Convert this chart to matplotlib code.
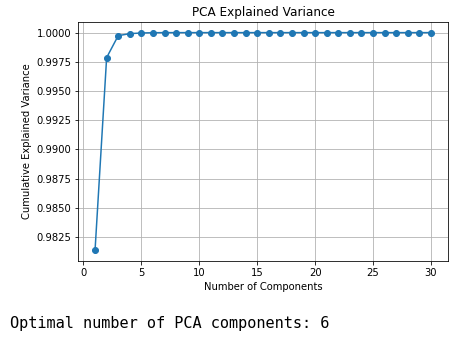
import numpy as np
import matplotlib.pyplot as plt

# Cumulative explained variance per number of components
n_components = list(range(1, 31))
cum_variance = [0.98138, 0.99786, 0.99974, 0.99991, 0.99997, 0.99999] + [1.0] * 24
optimal_k = 6

fig = plt.figure(figsize=(455 / 72, 337 / 72), dpi=72)
ax = fig.add_axes([0.172, 0.2255, 0.812, 0.71])

ax.plot(n_components, cum_variance, marker='o', color='#1f77b4')
ax.set_xlabel('Number of Components')
ax.set_ylabel('Cumulative Explained Variance')
ax.set_title('PCA Explained Variance')
ax.set_yticks(np.arange(0.9825, 1.00001, 0.0025))
ax.set_yticklabels([f'{v:.4f}' for v in np.arange(0.9825, 1.00001, 0.0025)])
ax.grid(True)

fig.text(0.022, 0.026, f'Optimal number of PCA components: {optimal_k}',
         family='DejaVu Sans Mono', fontsize=15.3, va='baseline')

fig.savefig('out.png', dpi=72)
